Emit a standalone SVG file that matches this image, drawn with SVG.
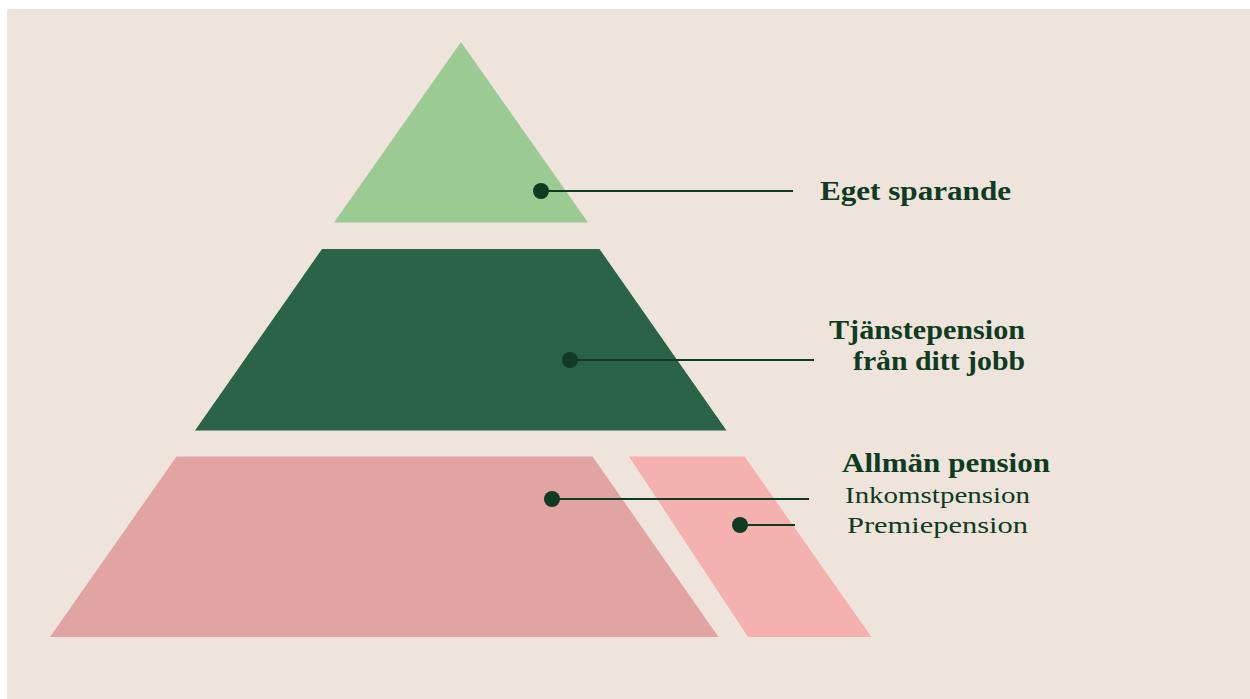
<svg xmlns="http://www.w3.org/2000/svg" width="1250" height="699" viewBox="0 0 1250 699">
<style>
.lbl{font-family:"Liberation Serif","DejaVu Serif",serif;fill:#0e3b22}
.b{font-weight:bold;font-size:27px}
.r{font-size:23px}
.ln{stroke:#0e3b22;stroke-width:2}
.dot{fill:#0e3b22}
</style>
<rect x="0" y="0" width="1250" height="699" fill="#ffffff"/>
<rect x="7" y="9" width="1243" height="690" fill="#efe4db"/>
<g id="eget">
<polygon points="461,42 588,222.5 334,222.5" fill="#9bca93"/>
</g>
<g id="tjanste">
<polygon points="322,249 599.5,249 726.5,430.5 195,430.5" fill="#2a6347"/>
</g>
<g id="inkomst">
<polygon points="176.5,456.5 592.5,456.5 718.5,637 50,637" fill="#e2a3a3"/>
</g>
<g id="premie">
<polygon points="629,456.5 744.5,456.5 871.5,637 748,637" fill="#f5b1b0"/>
</g>
<g id="connectors">
<line class="ln" x1="541" y1="191" x2="793" y2="191"/>
<circle class="dot" cx="541" cy="191" r="8"/>
<line class="ln" x1="570" y1="360" x2="814" y2="360"/>
<circle class="dot" cx="570" cy="360" r="8"/>
<line class="ln" x1="552" y1="499" x2="809" y2="499"/>
<circle class="dot" cx="552" cy="499" r="8"/>
<line class="ln" x1="740" y1="525" x2="795" y2="525"/>
<circle class="dot" cx="740" cy="525" r="8"/>
</g>
<g id="labels">
<text class="lbl b" x="820" y="200" textLength="191" lengthAdjust="spacingAndGlyphs">Eget sparande</text>
<text class="lbl b" x="829" y="339" textLength="196" lengthAdjust="spacingAndGlyphs">Tjänstepension</text>
<text class="lbl b" x="853" y="370" textLength="172" lengthAdjust="spacingAndGlyphs">från ditt jobb</text>
<text class="lbl b" x="842" y="472" textLength="208" lengthAdjust="spacingAndGlyphs">Allmän pension</text>
<text class="lbl r" x="845" y="503" textLength="185" lengthAdjust="spacingAndGlyphs">Inkomstpension</text>
<text class="lbl r" x="847" y="533" textLength="181" lengthAdjust="spacingAndGlyphs">Premiepension</text>
</g>
</svg>
